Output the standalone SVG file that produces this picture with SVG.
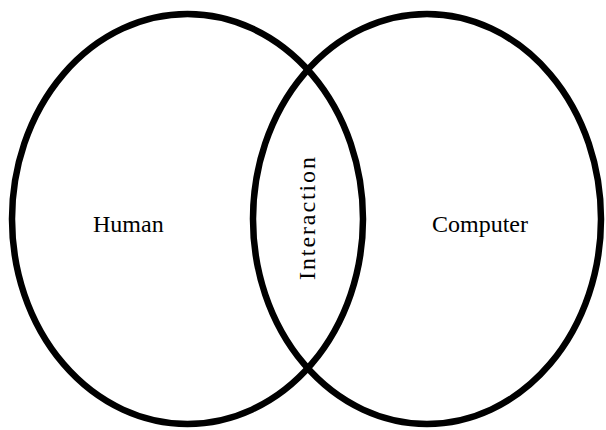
<svg xmlns="http://www.w3.org/2000/svg" width="606" height="430" viewBox="0 0 606 430">
<style>
.c{fill:none;stroke:#000;stroke-width:6.5}
.t{font-family:"Liberation Serif","Times New Roman",serif;font-size:24px;fill:#000}
</style>
<rect width="606" height="430" fill="#fff"/>
<g id="human">
<ellipse class="c" cx="187.5" cy="219" rx="175.5" ry="205"/>
<text class="t" x="93" y="232">Human</text>
</g>
<g id="computer">
<ellipse class="c" cx="427" cy="219" rx="174" ry="205"/>
<text class="t" x="432" y="232">Computer</text>
</g>
<g id="interaction">
<text class="t" transform="translate(315,218.5) rotate(-90)" text-anchor="middle" textLength="123" lengthAdjust="spacing">Interaction</text>
</g>
<g id="connectors"/>
</svg>
